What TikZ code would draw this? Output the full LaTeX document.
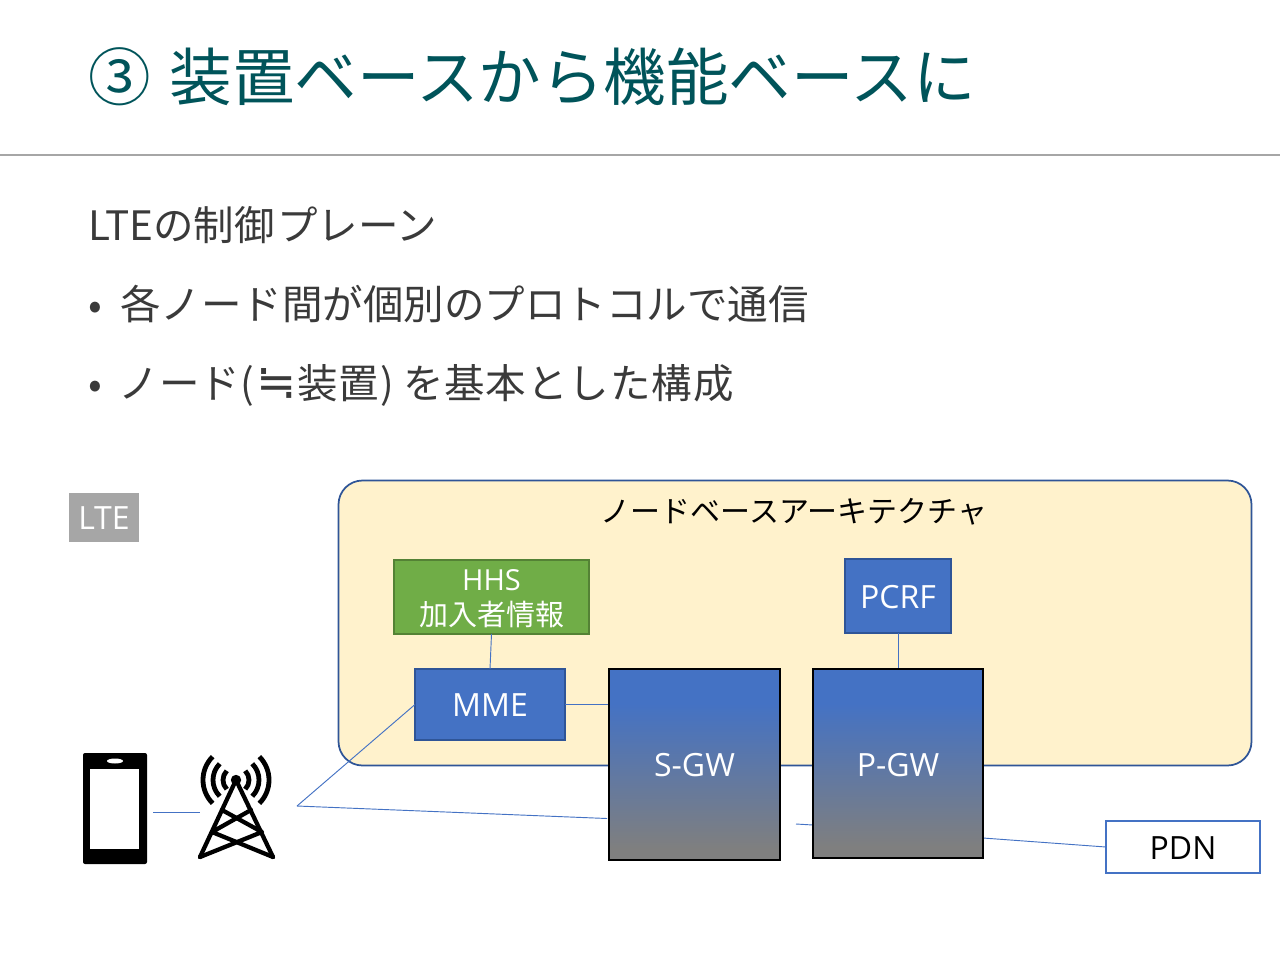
\documentclass[tikz,border=0pt]{standalone}
\usepackage{fontspec}
\setmainfont{Noto Sans CJK JP}
\newfontfamily\lat{Open Sans}
\newfontfamily\sym{DejaVu Sans}
\newcommand{\fs}[1]{\fontsize{\dimexpr#1pt*3/4\relax}{\dimexpr#1pt*9/10\relax}\selectfont}
\newcommand{\ks}{\kern0.75pt}
\definecolor{titlec}{HTML}{00545A}
\definecolor{bodyc}{HTML}{3A3A3A}
\definecolor{acc}{HTML}{4472C4}
\definecolor{accd}{HTML}{2F5597}
\definecolor{gwg}{HTML}{7F7F7F}
\definecolor{yel}{HTML}{FFF2CC}
\definecolor{grn}{HTML}{70AD47}
\definecolor{grnd}{HTML}{548235}
\pgfdeclareverticalshading{gwshade}{100bp}{color(0bp)=(gwg); color(25bp)=(gwg); color(28bp)=(gwg); color(66bp)=(acc); color(75bp)=(acc); color(100bp)=(acc)}
\tikzset{
  x=0.75pt,y=-0.75pt,
  txt/.style={anchor=base west,inner sep=0pt,outer sep=0pt,text=bodyc},
  titletxt/.style={txt,text=titlec,font=\fs{62.5}},
  bodytxt/.style={txt,font=\fs{40.5}},
  box/.style={rectangle,anchor=north west,inner sep=0pt,outer sep=0pt,align=center},
  capbox/.style={rectangle,anchor=north west,inner sep=0pt,outer sep=0pt,text height=18.6pt,text depth=0pt},
  bluebox/.style={capbox,fill=acc,draw=accd,line width=1.2pt,text=white,font=\lat\fs{32}},
  gw/.style={capbox,shading=gwshade,draw=black,line width=1.7pt,text=white,font=\lat\fs{32}},
  link/.style={draw=acc,line width=0.7pt},
  ic/.style={line width=3.2pt,line cap=round,line join=round},
  wave/.style={line width=3.6pt},
}
\begin{document}
\begin{tikzpicture}
\useasboundingbox (0,0) rectangle (1280,960);
\fill[white] (0,0) rectangle (1280,960);
% title
\node[titletxt] (title) at (88,100) {③\kern3.75pt\ 装置ベースから機能ベースに};
\coordinate (ruleL) at (0,155);
\coordinate (ruleR) at (1280,155);
\draw[draw=black!35,line width=1pt] (ruleL) -- (ruleR);
% body
\node[bodytxt] (b1) at (88.5,240) {LTEの制御\kern2ptプレーン};
\node[bodytxt] (bull1) at (88.5,319) {•};
\node[bodytxt] (b2) at (120,319) {各ノード間が個別のプロトコルで通信};
\node[bodytxt] (bull2) at (88.5,398) {•};
\node[bodytxt] (b3) at (118.5,398) {ノード(\kern2pt{\sym\fs{48}≒}\kern1pt装置\kern1pt)\kern7.5ptを基\ks 本\ks と\ks し\ks た\ks 構\ks 成};
% LTE tag
\node[capbox,fill=black!35,text=white,font=\lat\fs{32},minimum width=52.5pt,minimum height=36.75pt] (lte) at (69,493) {LTE};
% container
\node[box,fill=yel,draw=accd,line width=1.3pt,rounded corners=18pt,minimum width=684.75pt,minimum height=213.75pt] (cont) at (338.5,480.5) {};
\node[anchor=base,inner sep=0pt,font=\fs{30},text=black] (contl) at (794,522) {ノードベースアーキテクチャ};
% nodes
\node[box,fill=grn,draw=grnd,line width=1.1pt,text=white,font=\fs{29},minimum width=146.25pt,minimum height=55.5pt] (hhs) at (394,560) {{\lat HHS}\rule{0pt}{18.6pt}\\加入者情報};
\node[bluebox,minimum width=112.5pt,minimum height=53.25pt] (mme) at (415,669) {MME};
\node[bluebox,minimum width=79.5pt,minimum height=55.5pt] (pcrf) at (845,559) {PCRF};
\node[capbox,fill=white,draw=acc,line width=1.1pt,text=black,font=\lat\fs{32},minimum width=115.5pt,minimum height=39pt] (pdn) at (1106,821) {PDN};
\coordinate (phoneR) at (153,812.5);
\coordinate (towerL) at (200,812.5);
\coordinate (hub) at (297,806);
\coordinate (sgwIn) at (607,818.5);
\coordinate (resume) at (796,824);
\coordinate (pgwIn) at (813,825);
\coordinate (pgwOut) at (983,838);
\coordinate (sgwM) at (609,704.5);
\coordinate (pgwT) at (898,669);
\draw[link] (phoneR) -- (towerL);
\draw[link] (hub) -- (mme.west);
\draw[link] (hub) -- (sgwIn);
\draw[link] (resume) -- (pgwIn);
\draw[link] (pgwOut) -- (pdn.west);
\draw[link] (hhs.south) -- (mme.north);
\draw[link] (pcrf.south) -- (pgwT);
\draw[link] (mme.east) -- (sgwM);
% gateways
\node[gw,minimum width=128.25pt,minimum height=143.25pt] (sgw) at (609,669) {S-GW};
\node[gw,text height=19.5pt,minimum width=127.5pt,minimum height=141.75pt] (pgw) at (813,669) {P-GW};
% phone
\fill[black,rounded corners=1.5pt] (83,753) rectangle (147,864);
\fill[white] (90,769) rectangle (139,849);
\fill[white] (115,761) ellipse [x radius=8,y radius=2.5];
% tower
\fill[black] (236,780) circle [radius=5.2];
\draw[ic] (200,857) -- (236,780) -- (273,857);
\draw[ic] (200,857) -- (262,832) -- (222,810);
\draw[ic] (273,857) -- (212,832) -- (251,810);
\foreach \r in {13,23,33}{
  \draw[wave] (236,780) ++(135:\r*0.75pt) arc[start angle=135,end angle=225,radius=\r*0.75pt];
  \draw[wave] (236,780) ++(45:\r*0.75pt) arc[start angle=45,end angle=-45,radius=\r*0.75pt];
}
\end{tikzpicture}
\end{document}
